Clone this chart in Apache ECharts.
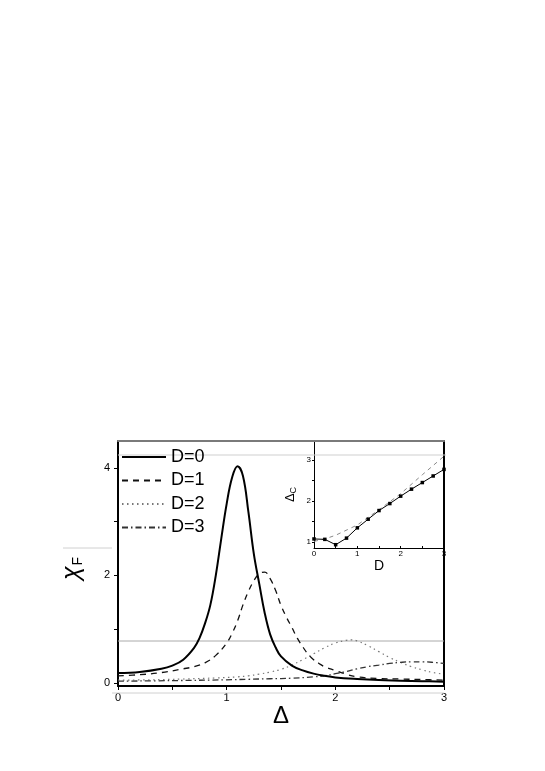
<!DOCTYPE html>
<html>
<head>
<meta charset="utf-8">
<script src="https://cdn.jsdelivr.net/npm/echarts@6/dist/echarts.min.js"></script>
<style>
html,body{margin:0;padding:0;background:#fff;}
#chart{width:545px;height:771px;}
</style>
</head>
<body>
<div id="chart"></div>
<script>
// ---- main panel data: chi_F vs Delta ----
var seriesNames = ['D=0', 'D=1', 'D=2', 'D=3'];

var deltaD0 = [0, 0.2, 0.4, 0.5, 0.6, 0.7, 0.75, 0.8, 0.85, 0.9, 0.95, 1.0, 1.05, 1.1, 1.15, 1.2, 1.25, 1.3, 1.35, 1.4, 1.45, 1.5, 1.6, 1.7, 1.8, 1.9, 2.0, 2.2, 2.4, 2.6, 2.8, 3.0];
var chiD0   = [0.18, 0.20, 0.26, 0.32, 0.43, 0.65, 0.83, 1.10, 1.45, 2.0, 2.68, 3.33, 3.82, 4.03, 3.85, 3.18, 2.40, 1.84, 1.30, 0.90, 0.66, 0.49, 0.32, 0.23, 0.17, 0.13, 0.10, 0.07, 0.05, 0.04, 0.03, 0.02];

var deltaD1 = [0, 0.2, 0.4, 0.6, 0.7, 0.8, 0.9, 1.0, 1.05, 1.1, 1.15, 1.2, 1.25, 1.3, 1.35, 1.4, 1.45, 1.5, 1.55, 1.6, 1.65, 1.7, 1.75, 1.8, 1.85, 1.9, 2.0, 2.1, 2.2, 2.4, 2.6, 2.8, 3.0];
var chiD1   = [0.13, 0.15, 0.19, 0.26, 0.30, 0.37, 0.51, 0.74, 0.92, 1.15, 1.45, 1.70, 1.90, 2.03, 2.06, 1.94, 1.72, 1.44, 1.22, 1.03, 0.83, 0.67, 0.53, 0.43, 0.36, 0.30, 0.23, 0.16, 0.11, 0.08, 0.07, 0.06, 0.05];

var deltaD2 = [0, 0.3, 0.6, 0.9, 1.1, 1.2, 1.3, 1.4, 1.5, 1.6, 1.7, 1.8, 1.9, 2.0, 2.1, 2.15, 2.2, 2.3, 2.4, 2.5, 2.6, 2.7, 2.8, 2.9, 3.0];
var chiD2   = [0.05, 0.055, 0.07, 0.09, 0.11, 0.13, 0.16, 0.20, 0.25, 0.33, 0.43, 0.54, 0.65, 0.74, 0.79, 0.80, 0.78, 0.69, 0.58, 0.47, 0.38, 0.30, 0.24, 0.19, 0.16];

var deltaD3 = [0, 0.5, 1.0, 1.2, 1.4, 1.6, 1.8, 1.9, 2.0, 2.1, 2.2, 2.3, 2.4, 2.5, 2.6, 2.7, 2.8, 2.9, 3.0];
var chiD3   = [0.03, 0.04, 0.055, 0.065, 0.075, 0.085, 0.11, 0.13, 0.17, 0.21, 0.26, 0.30, 0.33, 0.36, 0.38, 0.39, 0.39, 0.38, 0.36];

var mainXTicks = [0, 0.5, 1, 1.5, 2, 2.5, 3];
var mainXLabels = [0, 1, 2, 3];
var mainYTicks = [0, 1, 2, 3, 4];
var mainYLabels = [0, 2, 4];

// ---- inset data: Delta_c vs D ----
var insetD      = [0, 0.25, 0.5, 0.75, 1.0, 1.25, 1.5, 1.75, 2.0, 2.25, 2.5, 2.75, 3.0];
var insetSolid  = [1.08, 1.07, 0.94, 1.10, 1.35, 1.56, 1.77, 1.94, 2.12, 2.29, 2.45, 2.61, 2.77];
var insetDashD  = [0, 0.25, 0.5, 1.0, 1.5, 2.0, 2.5, 3.0];
var insetDashed = [1.02, 1.08, 1.17, 1.42, 1.79, 2.18, 2.64, 3.09];
var insetXTicks = [0, 0.5, 1, 1.5, 2, 2.5, 3];
var insetXLabels = [0, 1, 2, 3];
var insetYTicks = [1, 1.5, 2, 2.5, 3];
var insetYLabels = [1, 2, 3];

function pairs(xs, ys) { return xs.map(function (x, i) { return [x, ys[i]]; }); }

var FONT = 'Liberation Sans, Arial, sans-serif';
var chart = echarts.init(document.getElementById('chart'), null, {renderer: 'canvas'});

var option = {
  animation: false,
  backgroundColor: '#ffffff',
  textStyle: {fontFamily: FONT},
  grid: [
    {left: 118, right: 101, top: 441, bottom: 85},
    {left: 314, right: 101, top: 441, bottom: 223}
  ],
  legend: {
    data: seriesNames,
    orient: 'vertical',
    left: 121, top: 447, padding: 0,
    itemWidth: 44, itemHeight: 14, itemGap: 3.5,
    itemStyle: {opacity: 0, borderWidth: 0},
    textStyle: {fontSize: 18, color: '#000', fontFamily: FONT, lineHeight: 20},
    inactiveColor: '#000'
  },
  xAxis: [
    {
      gridIndex: 0, type: 'value', min: 0, max: 3,
      name: 'Δ', nameLocation: 'middle', nameGap: 15,
      nameTextStyle: {fontSize: 24, color: '#000', fontFamily: FONT},
      axisLine: {show: true, onZero: false, lineStyle: {color: '#000', width: 2}},
      axisTick: {show: true, inside: false, length: 4, customValues: mainXTicks, lineStyle: {color: '#000'}},
      axisLabel: {customValues: mainXLabels, fontSize: 11, color: '#000', margin: 6, fontFamily: FONT},
      splitLine: {show: false}
    },
    {
      gridIndex: 0, type: 'value', min: 0, max: 3, position: 'top',
      axisLine: {show: true, onZero: false, lineStyle: {color: '#7a7a7a', width: 2}},
      axisTick: {show: false}, axisLabel: {show: false}, splitLine: {show: false}
    },
    {
      gridIndex: 1, type: 'value', min: 0, max: 3,
      name: 'D', nameLocation: 'middle', nameGap: 11,
      nameTextStyle: {fontSize: 14, color: '#000', fontFamily: FONT},
      axisLine: {show: true, onZero: false, lineStyle: {color: '#000', width: 1}},
      axisTick: {show: true, inside: true, length: 2, customValues: insetXTicks, lineStyle: {color: '#000'}},
      axisLabel: {customValues: insetXLabels, fontSize: 8, color: '#000', margin: 2, fontFamily: FONT},
      splitLine: {show: false}
    }
  ],
  yAxis: [
    {
      gridIndex: 0, type: 'value', min: -0.06, max: 4.5,
      name: '{x|χ}{s|F}', nameLocation: 'middle', nameGap: 33,
      nameTextStyle: {
        color: '#000', fontFamily: FONT, padding: [0, 0, 0, -10],
        rich: {
          x: {fontSize: 25, color: '#000', fontFamily: FONT, fontStyle: 'italic'},
          s: {fontSize: 14, color: '#000', fontFamily: FONT, padding: [12, 0, 0, 1]}
        }
      },
      axisLine: {show: true, onZero: false, lineStyle: {color: '#000', width: 2}},
      axisTick: {show: true, inside: false, length: 4, customValues: mainYTicks, lineStyle: {color: '#000'}},
      axisLabel: {customValues: mainYLabels, fontSize: 11, color: '#000', margin: 8, fontFamily: FONT},
      splitLine: {show: false}
    },
    {
      gridIndex: 0, type: 'value', min: -0.06, max: 4.5, position: 'right',
      axisLine: {show: true, onZero: false, lineStyle: {color: '#000', width: 2}},
      axisTick: {show: false}, axisLabel: {show: false}, splitLine: {show: false}
    },
    {
      gridIndex: 1, type: 'value', min: 0.86, max: 3.46,
      name: '{d|Δ}{c|C}', nameLocation: 'middle', nameGap: 16,
      nameTextStyle: {
        color: '#000', fontFamily: FONT,
        rich: {
          d: {fontSize: 13, color: '#000', fontFamily: FONT},
          c: {fontSize: 9, color: '#000', fontFamily: FONT, padding: [6, 0, 0, 0]}
        }
      },
      axisLine: {show: true, onZero: false, lineStyle: {color: '#000', width: 1}},
      axisTick: {show: true, inside: false, length: 2, customValues: insetYTicks, lineStyle: {color: '#000'}},
      axisLabel: {customValues: insetYLabels, fontSize: 8, color: '#000', margin: 3, fontFamily: FONT},
      splitLine: {show: false}
    }
  ],
  series: [
    {
      name: seriesNames[0], type: 'line', xAxisIndex: 0, yAxisIndex: 0,
      data: pairs(deltaD0, chiD0), smooth: 0.4, symbol: 'none',
      lineStyle: {color: '#000', width: 2, type: 'solid'}, itemStyle: {color: '#000'}, z: 5
    },
    {
      name: seriesNames[1], type: 'line', xAxisIndex: 0, yAxisIndex: 0,
      data: pairs(deltaD1, chiD1), smooth: 0.4, symbol: 'none',
      lineStyle: {color: '#111', width: 1.3, type: [6, 5]}, itemStyle: {color: '#111'}, z: 4
    },
    {
      name: seriesNames[2], type: 'line', xAxisIndex: 0, yAxisIndex: 0,
      data: pairs(deltaD2, chiD2), smooth: 0.4, symbol: 'none',
      lineStyle: {color: '#777', width: 1.2, type: [1.5, 3.5]}, itemStyle: {color: '#777'}, z: 3
    },
    {
      name: seriesNames[3], type: 'line', xAxisIndex: 0, yAxisIndex: 0,
      data: pairs(deltaD3, chiD3), smooth: 0.4, symbol: 'none',
      lineStyle: {color: '#333', width: 1.3, type: [6, 3, 1.5, 3]}, itemStyle: {color: '#333'}, z: 3
    },
    {
      name: 'inset dashed', type: 'line', xAxisIndex: 2, yAxisIndex: 2,
      data: pairs(insetDashD, insetDashed), symbol: 'none',
      lineStyle: {color: '#8a8a8a', width: 1, type: [4, 4]}, z: 4
    },
    {
      name: 'inset solid', type: 'line', xAxisIndex: 2, yAxisIndex: 2,
      data: pairs(insetD, insetSolid), symbol: 'rect', symbolSize: 3.5, showSymbol: true,
      lineStyle: {color: '#000', width: 1}, itemStyle: {color: '#000'}, z: 5
    }
  ],
  graphic: [
    {type: 'line', silent: true, z: 1, shape: {x1: 118, y1: 455, x2: 446, y2: 455}, style: {stroke: '#cfcfcf', lineWidth: 1}},
    {type: 'line', silent: true, z: 1, shape: {x1: 118, y1: 641, x2: 444, y2: 641}, style: {stroke: '#aaaaaa', lineWidth: 1}},
    {type: 'line', silent: true, z: 1, shape: {x1: 63, y1: 548, x2: 112, y2: 548}, style: {stroke: '#d0d0d0', lineWidth: 1}},
    {type: 'line', silent: true, z: 1, shape: {x1: 112, y1: 693, x2: 444, y2: 693}, style: {stroke: '#d0d0d0', lineWidth: 1}}
  ]
};
chart.setOption(option);
</script>
</body>
</html>
